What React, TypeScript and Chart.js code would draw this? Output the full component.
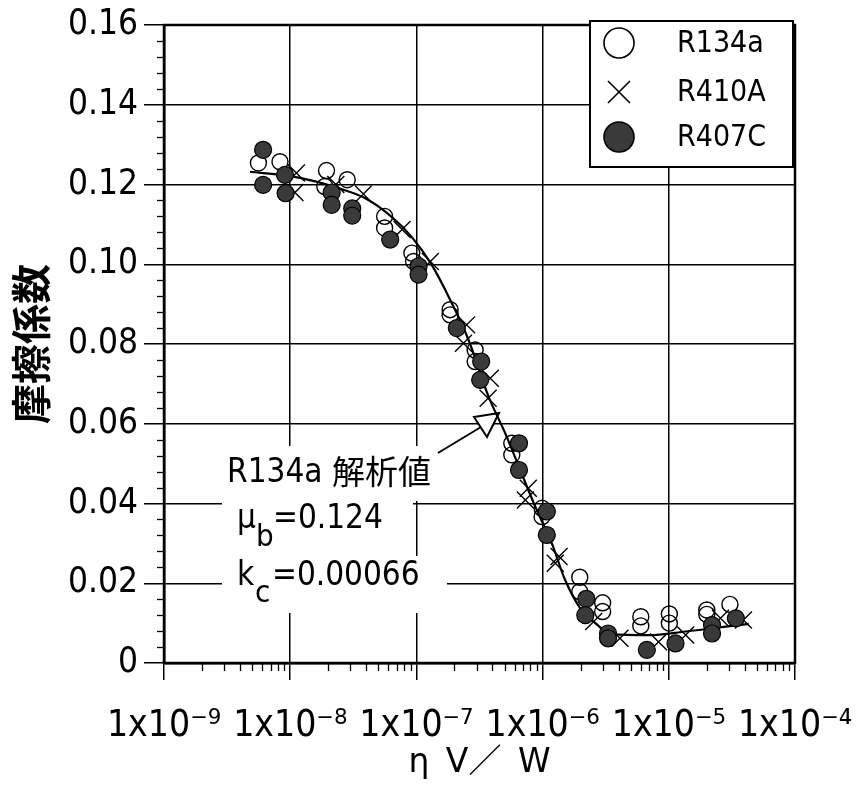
import React, { useEffect, useRef } from 'react';
import { Chart, registerables } from 'chart.js';

Chart.register(...registerables);

const NARROW = "'DejaVu Sans Condensed', 'Noto Sans CJK JP', sans-serif";
const CJK = "'Noto Sans CJK JP', 'Noto Sans CJK SC', sans-serif";
const TITLE_FONT = "'DejaVu Sans', 'Noto Sans CJK JP', sans-serif";

// ---- axes ----
const xDecades = [-9, -8, -7, -6, -5, -4];
const yTickValues = [0, 0.02, 0.04, 0.06, 0.08, 0.1, 0.12, 0.14, 0.16];
const yMinorStep = 0.004;
const xTitle = 'η\u2002V／\u2002W';
const yTitle = '摩擦係数';

// ---- series: R134a (open circles) ----
const r134aX = [5.6e-9, 8.3e-9, 1.94e-8, 1.88e-8, 2.83e-8, 5.6e-8, 5.6e-8, 9.2e-8, 9.5e-8, 1.85e-7, 1.85e-7, 2.92e-7, 2.92e-7, 5.7e-7, 5.7e-7, 9.9e-7, 9.9e-7, 1.97e-6, 1.97e-6, 2.99e-6, 2.99e-6, 6.0e-6, 6.0e-6, 1.01e-5, 1.01e-5, 2.0e-5, 2.0e-5, 3.05e-5];
const r134aY = [0.1254, 0.1257, 0.1235, 0.1195, 0.1212, 0.112, 0.1091, 0.1028, 0.1007, 0.0886, 0.0873, 0.0785, 0.0756, 0.0551, 0.0522, 0.0388, 0.0367, 0.0215, 0.0179, 0.0151, 0.0129, 0.0116, 0.0093, 0.0123, 0.01, 0.0133, 0.0122, 0.0147];

// ---- series: R410A (crosses) ----
const r410aX = [1.12e-8, 1.09e-8, 2.3e-8, 3.8e-8, 7.7e-8, 1.29e-7, 2.5e-7, 2.36e-7, 3.85e-7, 3.7e-7, 7.7e-7, 7.3e-7, 1.35e-6, 1.26e-6, 2.54e-6, 4.1e-6, 8.3e-6, 1.36e-5, 2.57e-5, 3.9e-5];
const r410aY = [0.1229, 0.118, 0.12, 0.1176, 0.1087, 0.1007, 0.0848, 0.0802, 0.0714, 0.0664, 0.0438, 0.0409, 0.0267, 0.025, 0.0104, 0.0062, 0.0053, 0.007, 0.0112, 0.0108];

// ---- series: R407C (filled circles) ----
const r407cX = [6.1e-9, 6.1e-9, 9.1e-9, 9.2e-9, 2.13e-8, 2.13e-8, 3.1e-8, 3.1e-8, 6.2e-8, 1.04e-7, 1.04e-7, 2.09e-7, 3.26e-7, 3.2e-7, 6.5e-7, 6.5e-7, 1.08e-6, 1.08e-6, 2.22e-6, 2.18e-6, 3.3e-6, 3.3e-6, 6.7e-6, 1.13e-5, 2.2e-5, 2.2e-5, 3.4e-5];
const r407cY = [0.1287, 0.1199, 0.1224, 0.1178, 0.118, 0.1149, 0.114, 0.1122, 0.1062, 0.0995, 0.0974, 0.084, 0.0756, 0.071, 0.0551, 0.0484, 0.038, 0.0321, 0.0161, 0.012, 0.0074, 0.0062, 0.0033, 0.0049, 0.0095, 0.0074, 0.0112];

// ---- analytical curve (R134a 解析値) ----
const fitX = [4.8e-9, 1e-8, 1.58e-8, 2.4e-8, 3.9e-8, 6.3e-8, 9.2e-8, 1.32e-7, 1.85e-7, 2.59e-7, 3.73e-7, 5.06e-7, 6.65e-7, 8.75e-7, 1.19e-6, 1.5e-6, 1.99e-6, 2.62e-6, 3.55e-6, 6.9e-6, 1.36e-5, 3.18e-5, 4.3e-5];
const fitY = [0.1232, 0.1221, 0.1208, 0.1191, 0.1166, 0.112, 0.1068, 0.0999, 0.0911, 0.081, 0.0668, 0.0576, 0.0484, 0.0392, 0.0298, 0.021, 0.0137, 0.01, 0.0072, 0.007, 0.0079, 0.0093, 0.0098];

const legendLabels = ['R134a', 'R410A', 'R407C'];
const noteTitle = ['R134a', '解析値'];
const noteMu = ['μ', 'b', '=0.124'];
const noteK = ['k', 'c', '=0.00066'];

const SUP: Record<string, string> = { '-': '⁻', '0': '⁰', '1': '¹', '2': '²', '3': '³', '4': '⁴', '5': '⁵', '6': '⁶', '7': '⁷', '8': '⁸', '9': '⁹' };
const sup = (n: number) => String(n).split('').map((c) => SUP[c] || c).join('');

const zip = (xs: number[], ys: number[]) => xs.map((x, i) => ({ x, y: ys[i] }));

const FILL_DARK = '#3a3a3a';

const decor = {
  id: 'decor',
  beforeDatasetsDraw(chart: any) {
    const { ctx, chartArea } = chart;
    const L = chartArea.left;
    const T = chartArea.top;
    ctx.save();
    // white masks behind annotation text
    ctx.fillStyle = '#ffffff';
    ctx.fillRect(L + 58, T + 421, 210, 55);
    ctx.fillRect(L + 58, T + 475, 191, 57);
    ctx.fillRect(L + 58, T + 531, 225, 57);

    // arrow
    ctx.strokeStyle = '#000';
    ctx.lineWidth = 2;
    ctx.beginPath();
    ctx.moveTo(L + 274, T + 428);
    ctx.lineTo(L + 317, T + 402);
    ctx.stroke();
    ctx.beginPath();
    ctx.moveTo(L + 335, T + 388);
    ctx.lineTo(L + 310, T + 392);
    ctx.lineTo(L + 323, T + 412);
    ctx.closePath();
    ctx.fillStyle = '#fff';
    ctx.fill();
    ctx.stroke();

    // annotation text
    ctx.fillStyle = '#000';
    ctx.textBaseline = 'alphabetic';
    ctx.textAlign = 'left';
    ctx.font = `33px ${NARROW}`;
    ctx.fillText(noteTitle[0], L + 63, T + 457);
    ctx.font = `33px ${CJK}`;
    ctx.fillText(noteTitle[1], L + 168, T + 459);

    ctx.font = `33px ${NARROW}`;
    ctx.fillText(noteMu[0], L + 73, T + 503);
    ctx.font = `31px ${NARROW}`;
    ctx.fillText(noteMu[1], L + 92, T + 521);
    ctx.font = `33px ${NARROW}`;
    ctx.fillText(noteMu[2], L + 109, T + 503);

    ctx.fillText(noteK[0], L + 73, T + 560);
    ctx.font = `31px ${NARROW}`;
    ctx.fillText(noteK[1], L + 91, T + 577);
    ctx.font = `33px ${NARROW}`;
    ctx.fillText(noteK[2], L + 108, T + 560);
    ctx.restore();
  },
  afterDraw(chart: any) {
    const { ctx, chartArea, scales } = chart;
    const { left, right, top, bottom } = chartArea;
    ctx.save();
    ctx.strokeStyle = '#000';
    // minor ticks on y axis
    ctx.lineWidth = 1.3;
    const ys = scales.y;
    for (let i = 1; i < 40; i++) {
      if (i % 5 === 0) continue;
      const py = Math.round(ys.getPixelForValue(i * yMinorStep)) + 0.5;
      ctx.beginPath();
      ctx.moveTo(left - 7, py);
      ctx.lineTo(left, py);
      ctx.stroke();
    }
    // minor ticks on x axis
    const xs = scales.x;
    for (let e = -9; e < -4; e++) {
      for (let m = 2; m <= 9; m++) {
        const px = Math.round(xs.getPixelForValue(m * Math.pow(10, e))) + 0.5;
        ctx.beginPath();
        ctx.moveTo(px, bottom);
        ctx.lineTo(px, bottom + 8);
        ctx.stroke();
      }
    }
    // frame
    ctx.lineWidth = 2.5;
    ctx.strokeRect(left, top, right - left, bottom - top);

    // legend box
    const bx = right - 205;
    const by = top - 4;
    const bw = 203;
    const bh = 146;
    ctx.fillStyle = '#fff';
    ctx.fillRect(bx, by, bw, bh);
    ctx.lineWidth = 2;
    ctx.strokeRect(bx, by, bw, bh);
    const mx = bx + 29;
    const rowsY = [by + 22, by + 71, by + 116];
    // open circle
    ctx.lineWidth = 1.6;
    ctx.beginPath();
    ctx.arc(mx, rowsY[0], 15, 0, Math.PI * 2);
    ctx.stroke();
    // cross
    ctx.beginPath();
    ctx.moveTo(mx - 11, rowsY[1] - 11);
    ctx.lineTo(mx + 11, rowsY[1] + 11);
    ctx.moveTo(mx + 11, rowsY[1] - 11);
    ctx.lineTo(mx - 11, rowsY[1] + 11);
    ctx.stroke();
    // filled
    ctx.fillStyle = FILL_DARK;
    ctx.beginPath();
    ctx.arc(mx, rowsY[2], 15, 0, Math.PI * 2);
    ctx.fill();
    ctx.stroke();
    ctx.fillStyle = '#000';
    ctx.font = `30px ${NARROW}`;
    ctx.textBaseline = 'middle';
    ctx.textAlign = 'left';
    legendLabels.forEach((t, i) => ctx.fillText(t, bx + 87, rowsY[i] + 1));
    ctx.restore();
  },
};

export default function App() {
  const ref = useRef<HTMLCanvasElement | null>(null);
  useEffect(() => {
    if (!ref.current) return;
    const chart = new Chart(ref.current, {
      type: 'scatter',
      data: {
        datasets: [
          {
            label: 'R407C',
            data: zip(r407cX, r407cY),
            pointStyle: 'circle',
            pointRadius: 8.5,
            pointBackgroundColor: FILL_DARK,
            pointBorderColor: '#000',
            pointBorderWidth: 1.2,
            showLine: false,
          },
          {
            label: 'R410A',
            data: zip(r410aX, r410aY),
            pointStyle: 'crossRot',
            pointRadius: 12,
            pointBorderColor: '#000',
            pointBorderWidth: 1.4,
            showLine: false,
          },
          {
            label: 'R134a',
            data: zip(r134aX, r134aY),
            pointStyle: 'circle',
            pointRadius: 8,
            pointBackgroundColor: 'rgba(0,0,0,0)',
            pointBorderColor: '#000',
            pointBorderWidth: 1.4,
            showLine: false,
          },
          {
            label: 'R134a 解析値',
            data: zip(fitX, fitY),
            showLine: true,
            pointRadius: 0,
            borderColor: '#000',
            borderWidth: 2.2,
            cubicInterpolationMode: 'monotone',
            fill: false,
          },
        ],
      },
      options: {
        responsive: false,
        animation: false,
        devicePixelRatio: 1,
        layout: { padding: { top: 25, right: 62, left: 0, bottom: 0 } },
        plugins: { legend: { display: false }, tooltip: { enabled: false } },
        scales: {
          x: {
            type: 'logarithmic',
            min: 1e-9,
            max: 1e-4,
            afterBuildTicks: (scale: any) => {
              scale.ticks = xDecades.map((e) => ({ value: Math.pow(10, e), major: true }));
            },
            afterFit: (scale: any) => {
              scale.height = 124;
              scale.paddingLeft = 0;
              scale.paddingRight = 0;
            },
            ticks: {
              autoSkip: false,
              maxRotation: 0,
              minRotation: 0,
              padding: 24,
              color: '#000',
              font: { family: NARROW, size: 37 },
              callback: (v: any) => `1x10${sup(Math.round(Math.log10(Number(v))))}`,
            },
            grid: { color: '#000', lineWidth: 1.5, tickLength: 17, drawTicks: true },
            border: { color: '#000', width: 2.5 },
            title: {
              display: true,
              text: xTitle,
              color: '#000',
              font: { family: TITLE_FONT, size: 33 },
              padding: { top: 0, bottom: 4 },
            },
          },
          y: {
            type: 'linear',
            min: 0,
            max: 0.16,
            afterBuildTicks: (scale: any) => {
              scale.ticks = yTickValues.map((v) => ({ value: v }));
            },
            afterFit: (scale: any) => {
              scale.width = 164;
              scale.paddingTop = 0;
              scale.paddingBottom = 0;
            },
            ticks: {
              padding: 6,
              color: '#000',
              font: { family: NARROW, size: 35 },
              callback: (v: any) => (Number(v) === 0 ? '0' : Number(v).toFixed(2)),
            },
            grid: { color: '#000', lineWidth: 1.5, tickLength: 20, drawTicks: true },
            border: { color: '#000', width: 2.5 },
            title: {
              display: true,
              text: yTitle,
              color: '#000',
              font: { family: CJK, size: 40, weight: 'bold' },
              padding: { top: 7, bottom: 0 },
            },
          },
        },
      },
      plugins: [decor],
    } as any);
    return () => chart.destroy();
  }, []);
  return (
    <div style={{ position: 'fixed', left: 0, top: 0, width: 857, height: 787, background: '#fff' }}>
      <canvas ref={ref} width={857} height={787} style={{ width: 857, height: 787, display: 'block' }} />
    </div>
  );
}
